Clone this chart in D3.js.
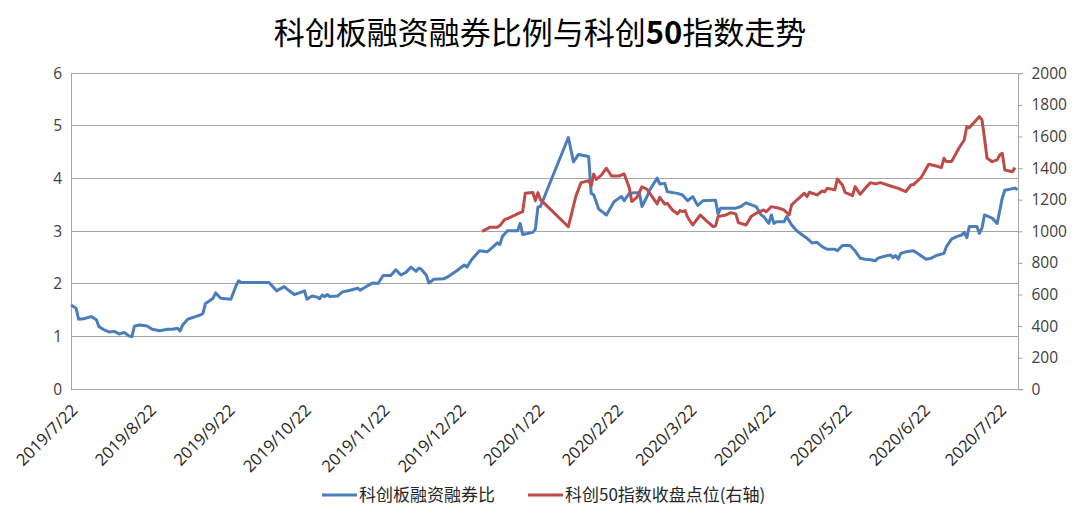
<!DOCTYPE html>
<html><head><meta charset="utf-8">
<script src="https://cdn.jsdelivr.net/npm/d3@7/dist/d3.min.js"></script>
<style>
html,body{margin:0;padding:0;background:#fff;}
svg{display:block;font-family:"Open Sans","Noto Sans CJK SC",sans-serif;}
</style></head><body>
<svg id="c" width="1080" height="516"></svg>
<script>
const titleParts = [["科创板融资融券比例与科创",400],["50",700],["指数走势",400]];
const seriesNames = ["科创板融资融券比", "科创50指数收盘点位(右轴)"];
const xTickLabels = ["2019/7/22","2019/8/22","2019/9/22","2019/10/22","2019/11/22","2019/12/22","2020/1/22","2020/2/22","2020/3/22","2020/4/22","2020/5/22","2020/6/22","2020/7/22"];
const leftTicks = [0,1,2,3,4,5,6];
const rightTicks = [0,200,400,600,800,1000,1200,1400,1600,1800,2000];

const ratioDates = ["2019-07-22","2019-07-24","2019-07-25","2019-07-27","2019-07-30","2019-08-01","2019-08-02","2019-08-04","2019-08-06","2019-08-08","2019-08-10","2019-08-12","2019-08-14","2019-08-15","2019-08-16","2019-08-18","2019-08-21","2019-08-23","2019-08-26","2019-08-28","2019-08-29","2019-08-31","2019-09-02","2019-09-03","2019-09-04","2019-09-06","2019-09-09","2019-09-11","2019-09-12","2019-09-13","2019-09-14","2019-09-16","2019-09-17","2019-09-19","2019-09-23","2019-09-25","2019-09-26","2019-09-27","2019-10-08","2019-10-11","2019-10-14","2019-10-16","2019-10-18","2019-10-20","2019-10-22","2019-10-23","2019-10-25","2019-10-27","2019-10-28","2019-10-29","2019-10-30","2019-10-31","2019-11-01","2019-11-04","2019-11-06","2019-11-09","2019-11-12","2019-11-13","2019-11-16","2019-11-18","2019-11-20","2019-11-22","2019-11-25","2019-11-27","2019-11-29","2019-12-01","2019-12-03","2019-12-05","2019-12-06","2019-12-07","2019-12-09","2019-12-10","2019-12-12","2019-12-16","2019-12-18","2019-12-21","2019-12-24","2019-12-25","2019-12-27","2019-12-30","2020-01-02","2020-01-04","2020-01-06","2020-01-07","2020-01-08","2020-01-10","2020-01-14","2020-01-15","2020-01-16","2020-01-20","2020-01-21","2020-01-22","2020-01-23","2020-02-03","2020-02-05","2020-02-07","2020-02-11","2020-02-12","2020-02-13","2020-02-15","2020-02-18","2020-02-21","2020-02-23","2020-02-24","2020-02-25","2020-02-27","2020-02-29","2020-03-02","2020-03-03","2020-03-05","2020-03-06","2020-03-09","2020-03-10","2020-03-12","2020-03-13","2020-03-17","2020-03-19","2020-03-21","2020-03-23","2020-03-25","2020-03-27","2020-03-31","2020-04-01","2020-04-02","2020-04-03","2020-04-09","2020-04-11","2020-04-13","2020-04-17","2020-04-19","2020-04-20","2020-04-22","2020-04-23","2020-04-24","2020-04-25","2020-04-28","2020-04-29","2020-05-01","2020-05-03","2020-05-06","2020-05-07","2020-05-09","2020-05-11","2020-05-13","2020-05-15","2020-05-18","2020-05-19","2020-05-21","2020-05-24","2020-05-26","2020-05-28","2020-05-30","2020-06-01","2020-06-03","2020-06-04","2020-06-07","2020-06-09","2020-06-10","2020-06-11","2020-06-12","2020-06-13","2020-06-15","2020-06-18","2020-06-19","2020-06-23","2020-06-25","2020-06-27","2020-06-30","2020-07-01","2020-07-03","2020-07-05","2020-07-07","2020-07-08","2020-07-09","2020-07-10","2020-07-13","2020-07-14","2020-07-15","2020-07-16","2020-07-19","2020-07-21","2020-07-23","2020-07-24","2020-07-28","2020-07-29"];
const ratioValues = [1.60,1.54,1.33,1.34,1.38,1.32,1.19,1.13,1.09,1.10,1.05,1.08,1.01,1.00,1.20,1.22,1.20,1.14,1.11,1.13,1.14,1.14,1.16,1.11,1.22,1.33,1.38,1.41,1.44,1.63,1.66,1.73,1.83,1.73,1.71,1.96,2.06,2.03,2.03,1.87,1.95,1.87,1.80,1.83,1.87,1.71,1.77,1.75,1.72,1.79,1.76,1.80,1.76,1.77,1.85,1.88,1.92,1.88,1.97,2.02,2.01,2.16,2.16,2.27,2.17,2.22,2.32,2.24,2.30,2.28,2.17,2.02,2.09,2.10,2.15,2.25,2.36,2.32,2.47,2.63,2.61,2.69,2.78,2.75,2.90,3.01,3.01,3.15,2.94,2.98,3.04,3.46,3.47,4.78,4.32,4.46,4.42,3.72,3.69,3.42,3.31,3.56,3.63,3.66,3.58,3.72,3.73,3.73,3.47,3.66,3.78,4.01,3.90,3.91,3.75,3.72,3.69,3.58,3.66,3.49,3.58,3.59,3.59,3.33,3.44,3.44,3.47,3.54,3.47,3.31,3.28,3.15,3.31,3.15,3.18,3.18,3.28,3.12,3.01,2.90,2.87,2.78,2.79,2.71,2.66,2.66,2.63,2.73,2.73,2.63,2.49,2.47,2.46,2.44,2.49,2.53,2.55,2.50,2.54,2.47,2.58,2.61,2.63,2.60,2.47,2.49,2.54,2.58,2.71,2.85,2.90,2.93,2.98,2.88,3.09,3.09,2.96,3.06,3.31,3.25,3.15,3.63,3.78,3.82,3.79];

const indexDates = ["2019-12-31","2020-01-03","2020-01-06","2020-01-07","2020-01-09","2020-01-10","2020-01-15","2020-01-16","2020-01-17","2020-01-20","2020-01-21","2020-01-22","2020-01-23","2020-02-03","2020-02-05","2020-02-06","2020-02-08","2020-02-11","2020-02-12","2020-02-13","2020-02-14","2020-02-16","2020-02-18","2020-02-20","2020-02-23","2020-02-25","2020-02-27","2020-02-28","2020-03-01","2020-03-03","2020-03-05","2020-03-07","2020-03-09","2020-03-10","2020-03-12","2020-03-13","2020-03-15","2020-03-17","2020-03-18","2020-03-19","2020-03-20","2020-03-21","2020-03-23","2020-03-26","2020-03-28","2020-03-31","2020-04-01","2020-04-02","2020-04-05","2020-04-07","2020-04-09","2020-04-10","2020-04-13","2020-04-15","2020-04-17","2020-04-20","2020-04-21","2020-04-23","2020-04-26","2020-04-28","2020-04-30","2020-05-01","2020-05-03","2020-05-06","2020-05-07","2020-05-08","2020-05-11","2020-05-13","2020-05-14","2020-05-15","2020-05-18","2020-05-19","2020-05-21","2020-05-22","2020-05-25","2020-05-26","2020-05-28","2020-05-30","2020-06-01","2020-06-03","2020-06-05","2020-06-09","2020-06-12","2020-06-15","2020-06-17","2020-06-18","2020-06-21","2020-06-22","2020-06-24","2020-06-27","2020-06-29","2020-06-30","2020-07-01","2020-07-03","2020-07-06","2020-07-08","2020-07-09","2020-07-10","2020-07-11","2020-07-14","2020-07-15","2020-07-16","2020-07-17","2020-07-19","2020-07-21","2020-07-22","2020-07-23","2020-07-24","2020-07-27","2020-07-28"];
const indexValues = [1000,1025,1025,1036,1076,1080,1118,1124,1241,1245,1194,1245,1200,1029,1160,1224,1308,1320,1287,1362,1329,1356,1399,1350,1350,1363,1276,1188,1215,1282,1266,1219,1173,1215,1173,1177,1135,1110,1131,1124,1131,1089,1040,1103,1072,1029,1034,1093,1103,1118,1110,1055,1040,1093,1114,1135,1124,1156,1146,1135,1103,1167,1198,1241,1219,1247,1230,1255,1250,1272,1262,1331,1293,1247,1226,1283,1234,1272,1308,1300,1308,1287,1272,1251,1293,1296,1340,1367,1424,1413,1403,1462,1441,1441,1529,1578,1662,1655,1673,1726,1705,1589,1462,1441,1452,1483,1494,1388,1377,1403];

const parse = d3.timeParse("%Y-%m-%d");
const tickParse = d3.timeParse("%Y/%m/%d");
const svg = d3.select("#c");
const m = {l:71, r:1017.5, t:73.3, b:389.3};

const x = d3.scaleTime().domain([parse("2019-07-22"), parse("2020-07-29")]).range([m.l, m.r]);
const yL = d3.scaleLinear().domain([0,6]).range([m.b, m.t]);
const yR = d3.scaleLinear().domain([0,2000]).range([m.b, m.t]);

// title
const tt = svg.append("text").attr("x",540).attr("y",44).attr("text-anchor","middle")
  .attr("font-family","'Noto Sans CJK SC',sans-serif").attr("font-size",31).attr("fill","#000");
titleParts.forEach(p=>tt.append("tspan").attr("font-weight",p[1]).text(p[0]));

// gridlines
svg.append("g").selectAll("line").data(leftTicks.slice(1)).join("line")
  .attr("x1",m.l).attr("x2",m.r).attr("y1",d=>yL(d)).attr("y2",d=>yL(d))
  .attr("stroke","#a6a6a6").attr("stroke-width",1).attr("shape-rendering","crispEdges");

// left axis
const gL = svg.append("g").attr("transform",`translate(${m.l},0)`)
  .call(d3.axisLeft(yL).tickValues(leftTicks).tickSize(0).tickPadding(9).tickFormat(d3.format("d")));
gL.select(".domain").attr("stroke","#a6a6a6").attr("shape-rendering","crispEdges");
gL.selectAll("text").attr("font-size",15.5).attr("fill","#404040").attr("font-family","'Open Sans',sans-serif");

// right axis
const gR = svg.append("g").attr("transform",`translate(${m.r},0)`)
  .call(d3.axisRight(yR).tickValues(rightTicks).tickSize(5).tickPadding(9).tickFormat(d3.format("d")));
gR.select(".domain").attr("stroke","#a6a6a6").attr("shape-rendering","crispEdges");
gR.selectAll("line").attr("stroke","#a6a6a6");
gR.selectAll("text").attr("font-size",15.5).attr("fill","#404040").attr("font-family","'Open Sans',sans-serif");

// bottom axis
const xTicks = xTickLabels.map(s=>tickParse(s));
const gB = svg.append("g").attr("transform",`translate(0,${m.b})`)
  .call(d3.axisBottom(x).tickValues(xTicks).tickSize(0).tickFormat((d,i)=>xTickLabels[i]));
gB.select(".domain").attr("stroke","#a6a6a6").attr("shape-rendering","crispEdges");
gB.selectAll("text").attr("font-size",16.5).attr("fill","#262626")
  .attr("font-family","'Open Sans',sans-serif")
  .attr("text-anchor","end").attr("dy",0).attr("dx",0)
  .attr("transform","translate(5,20) rotate(-45)");

// lines
const lineL = d3.line().x(d=>x(d[0])).y(d=>yL(d[1]));
const lineR = d3.line().x(d=>x(d[0])).y(d=>yR(d[1]));
const ratioData = ratioDates.map((d,i)=>[parse(d), ratioValues[i]]);
const indexData = indexDates.map((d,i)=>[parse(d), indexValues[i]]);

svg.append("path").datum(ratioData).attr("d",lineL).attr("fill","none")
  .attr("stroke","#4a7ebb").attr("stroke-width",3).attr("stroke-linejoin","round");
svg.append("path").datum(indexData).attr("d",lineR).attr("fill","none")
  .attr("stroke","#be4b48").attr("stroke-width",3).attr("stroke-linejoin","round");

// legend
const lg = svg.append("g");
const legendItems = [{name:seriesNames[0], color:"#4a7ebb", x:322},{name:seriesNames[1], color:"#be4b48", x:528}];
legendItems.forEach(it=>{
  lg.append("line").attr("x1",it.x).attr("x2",it.x+35).attr("y1",495).attr("y2",495)
    .attr("stroke",it.color).attr("stroke-width",3);
  lg.append("text").attr("x",it.x+37).attr("y",501).attr("font-size",17)
    .attr("font-family","'Noto Sans CJK SC',sans-serif").attr("fill","#262626").text(it.name);
});
</script>
</body></html>
